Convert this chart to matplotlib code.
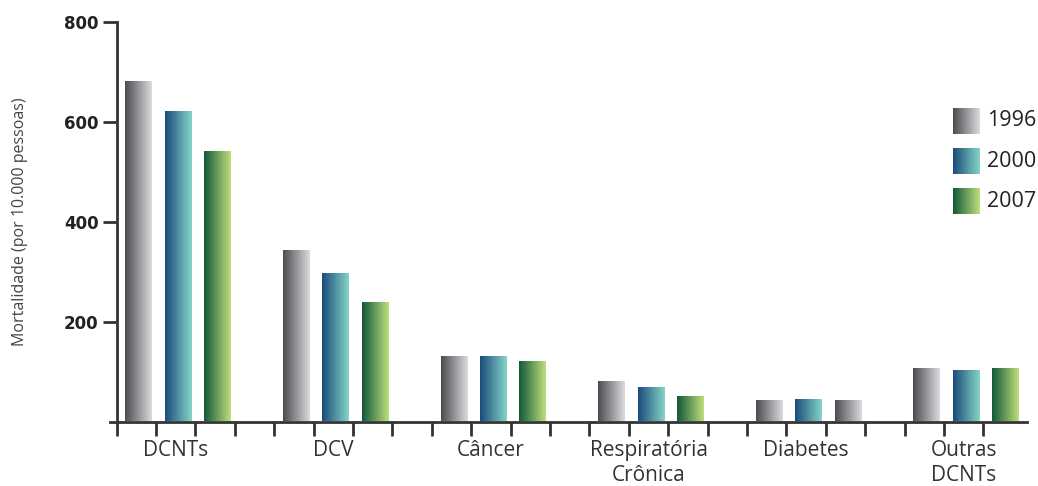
import numpy as np
import matplotlib
matplotlib.use("Agg")
import matplotlib.pyplot as plt
from matplotlib.colors import LinearSegmentedColormap

plt.rcParams['font.family'] = ['Open Sans', 'DejaVu Sans']

categories = ["DCNTs", "DCV", "Câncer", "Respiratória\nCrônica", "Diabetes", "Outras\nDCNTs"]
years = ["1996", "2000", "2007"]
values_1996 = [680, 341, 129, 79, 41, 105]
values_2000 = [620, 295, 129, 67, 43, 101]
values_2007 = [540, 237, 119, 49, 41, 105]
# colour style used for each 2007 bar (the Diabetes 2007 bar is drawn grey in the source)
style_2007 = ["2007", "2007", "2007", "2007", "1996", "2007"]
y_ticks = [200, 400, 600, 800]
y_label = "Mortalidade (por 10.000 pessoas)"

gradients = {
    "1996": ["#4c4c50", "#dcdce0"],
    "2000": ["#1a4c7a", "#86d4c8"],
    "2007": ["#12583a", "#bee07c"],
}
cmaps = {k: LinearSegmentedColormap.from_list(k, v) for k, v in gradients.items()}
grad = np.linspace(0, 1, 256).reshape(1, -1)

fig = plt.figure(figsize=(10.38, 4.86), dpi=100)
ax = fig.add_axes([110 / 1038, 64.5 / 486, 916.8 / 1038, 399.5 / 486])

series = [values_1996, values_2000, values_2007]
styles = [["1996"] * len(categories), ["2000"] * len(categories), style_2007]
bar_w = 0.66
for g in range(len(categories)):
    for s in range(3):
        xc = 4 * g + s + 0.55
        h = series[s][g]
        ax.imshow(grad, extent=[xc - bar_w / 2, xc + bar_w / 2, 0, h],
                  aspect='auto', cmap=cmaps[styles[s][g]], zorder=2,
                  interpolation='bilinear')

ax.set_xlim(-0.17, 23.1)
ax.set_ylim(0, 800)

dark = "#333333"
for side in ["top", "right"]:
    ax.spines[side].set_visible(False)
ax.spines['left'].set_position(('data', 0))
ax.spines['left'].set_color(dark)
ax.spines['bottom'].set_color(dark)
ax.spines['left'].set_linewidth(2)
ax.spines['bottom'].set_linewidth(2)

ax.set_yticks(y_ticks)
ax.set_yticklabels([str(t) for t in y_ticks], fontsize=12, fontweight='bold',
                   color="#222222", family=['DejaVu Sans'])
ax.tick_params(axis='y', length=10, width=2, color=dark, pad=3, direction='out')

ax.set_xticks(np.arange(0, 23))
ax.set_xticklabels([])
ax.tick_params(axis='x', which='major', length=10, width=2, color=dark, direction='out')
ax.set_xticks([4 * g + 1.5 for g in range(len(categories))], minor=True)
ax.set_xticklabels(categories, minor=True, fontsize=15, color="#333333", linespacing=1.3)
ax.tick_params(axis='x', which='minor', length=0, pad=13)

fig.text(20 / 1038, 1 - 222 / 486, y_label, rotation=90, ha='center', va='center',
         fontsize=11.5, color="#444444")

# legend
leg_y = [0.7197, 0.6195, 0.519]
for i, yr in enumerate(years):
    y0 = leg_y[i]
    ax.imshow(grad, extent=[0.9195, 0.948, y0, y0 + 0.065], transform=ax.transAxes,
              aspect='auto', cmap=cmaps[yr], zorder=3, clip_on=False, interpolation='bilinear')
    ax.text(0.9566, y0 + 0.0325, yr, transform=ax.transAxes, ha='left', va='center',
            fontsize=15.5, color="#222222")

ax.set_xlim(-0.17, 23.1)
ax.set_ylim(0, 800)

fig.savefig("out.png", dpi=100)
